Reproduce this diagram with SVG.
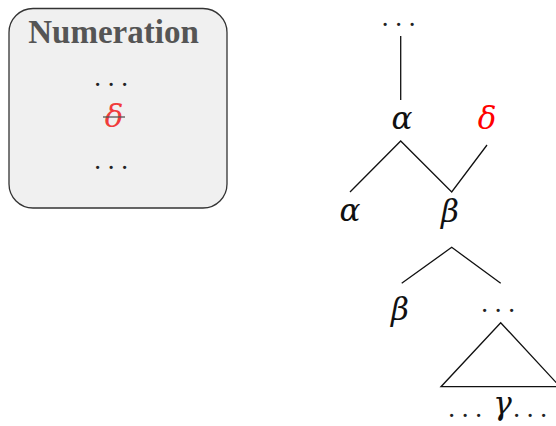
<svg xmlns="http://www.w3.org/2000/svg" width="556" height="426" viewBox="0 0 556 426">
<style>
.m{font-family:"DejaVu Serif","Liberation Serif",serif;font-style:italic;font-size:31px;fill:#111;text-anchor:middle}
.d{font-family:"Liberation Serif","Times New Roman",serif;font-size:27px;fill:#222;text-anchor:middle}
.e{stroke:#111;stroke-width:1.3;fill:none}
</style>
<rect width="556" height="426" fill="#fff"/>
<g id="numeration">
<rect x="9" y="8.5" width="218" height="199.5" rx="24" fill="#f0f0f0" stroke="#333" stroke-width="1.3"/>
<text x="113.5" y="43" font-family="Liberation Serif,serif" font-weight="bold" font-size="33" fill="#555" text-anchor="middle">Numeration</text>
<text class="d" x="111" y="86" fill="#444">. . .</text>
<text class="m" x="114" y="127" style="fill:#f03c3c">δ</text>
<line x1="103" y1="117" x2="125" y2="117" stroke="#555" stroke-width="1.3"/>
<text class="d" x="111" y="169" fill="#444">. . .</text>
</g>
<g id="connectors">
<line class="e" x1="400.7" y1="36" x2="400.7" y2="100"/>
<polyline class="e" points="350,192 400.7,141 451.7,192 487,145"/>
<polyline class="e" points="401.7,283.3 451.7,247.3 500.7,283.3"/>
<polygon class="e" points="500.7,322.7 441,386.7 560,386.7"/>
</g>
<g id="top"><text class="d" x="398.5" y="26">. . .</text></g>
<g id="alpha-top"><text class="m" x="402" y="129">α</text></g>
<g id="delta"><text class="m" x="487" y="129" style="fill:#ff0000">δ</text></g>
<g id="alpha-low"><text class="m" x="350" y="221">α</text></g>
<g id="beta-top"><text class="m" x="450" y="222">β</text></g>
<g id="beta-low"><text class="m" x="400" y="320">β</text></g>
<g id="dots-low"><text class="d" x="498" y="312">. . .</text></g>
<g id="gamma"><text class="d" x="465" y="417">. . .</text><text class="m" x="502.5" y="414">γ</text><text class="d" x="530" y="417">. . .</text></g>
</svg>
